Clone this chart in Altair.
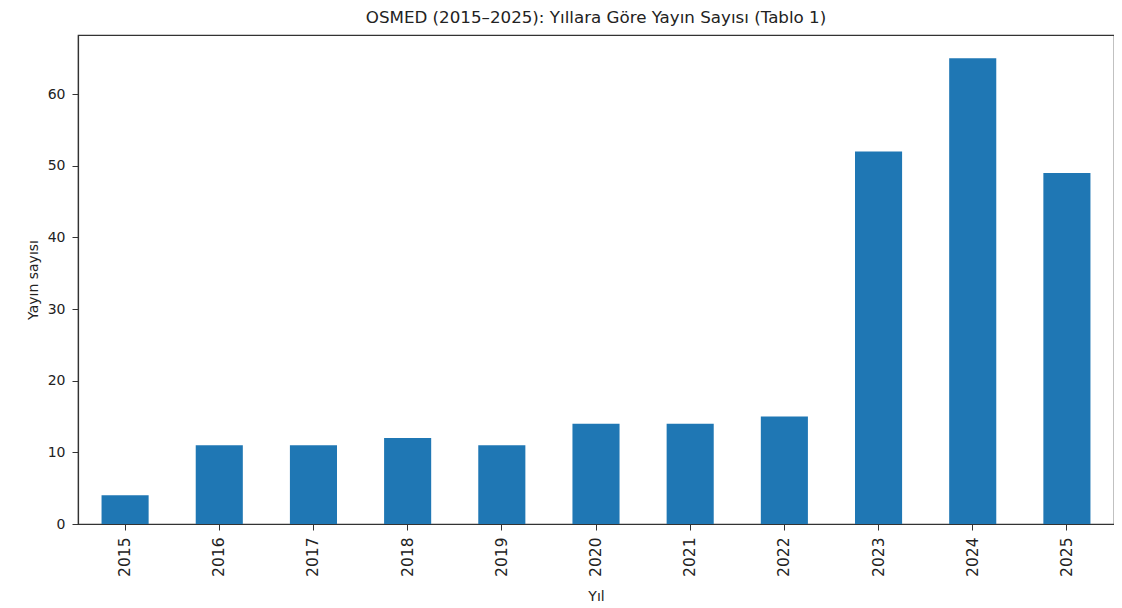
import altair as alt
import pandas as pd

years = ["2015", "2016", "2017", "2018", "2019", "2020", "2021", "2022", "2023", "2024", "2025"]
counts = [4, 11, 11, 12, 11, 14, 14, 15, 52, 65, 49]
y_ticks = [0, 10, 20, 30, 40, 50, 60]

df = pd.DataFrame({"Yıl": years, "Yayın sayısı": counts})

font = "DejaVu Sans"

chart = alt.Chart(df).mark_bar(color="#1f77b4").encode(
    x=alt.X("Yıl:N", sort=years,
            scale=alt.Scale(paddingInner=0.5, paddingOuter=0.25),
            axis=alt.Axis(title="Yıl", labelAngle=270, labelAlign="right", labelBaseline="middle",
                          labelPadding=7, tickSize=6, titlePadding=13, labelFontSize=15.5)),
    y=alt.Y("Yayın sayısı:Q", scale=alt.Scale(domain=[0, 68.25], nice=False, zero=True),
            axis=alt.Axis(title="Yayın sayısı", values=y_ticks, tickSize=6, labelPadding=7,
                          titlePadding=7, grid=False)),
).properties(
    width=1036,
    height=489,
    title=alt.TitleParams("OSMED (2015–2025): Yıllara Göre Yayın Sayısı (Tablo 1)",
                          font=font, fontSize=16.7, fontWeight="normal", color="#222222", offset=8),
    autosize=alt.AutoSizeParams(type="none"),
    padding={"left": 70, "top": 27, "right": 0, "bottom": 84},
).configure_view(
    stroke="#333333", strokeWidth=1.2
).configure_axis(
    labelFont=font, titleFont=font, labelFontSize=14, titleFontSize=14,
    labelColor="#222222", titleColor="#222222", domainColor="#333333",
    tickColor="#333333", titleFontWeight="normal", domainWidth=1.2
)

chart.save("out.html", embed_options={"renderer": "svg", "actions": False})
